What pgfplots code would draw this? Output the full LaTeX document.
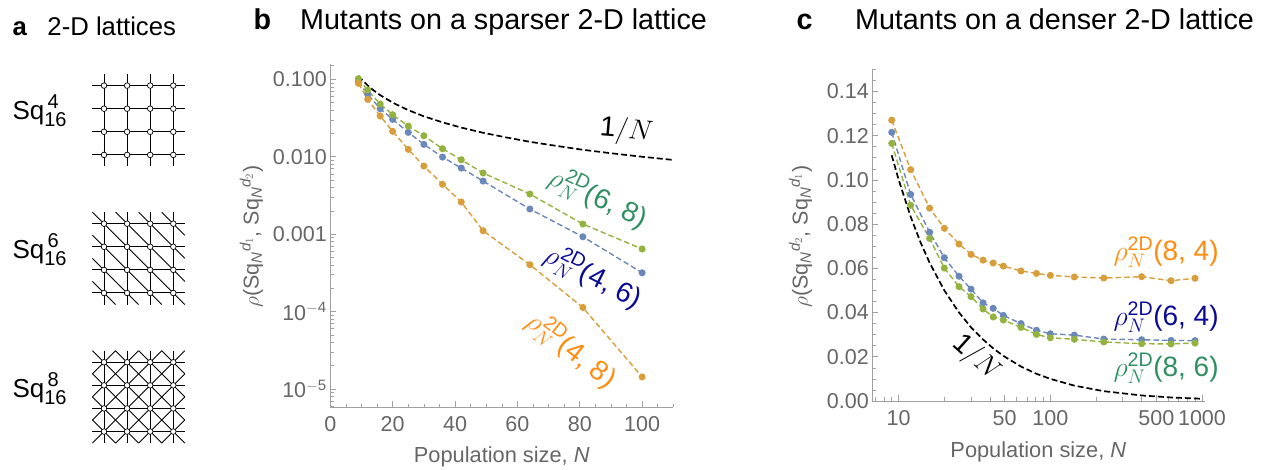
\RequirePackage{fix-cm}
\documentclass[border=0pt]{standalone}
\usepackage{fontspec}
\setmainfont{Liberation Sans}
\usepackage{pgfplots}
\pgfplotsset{compat=1.18}
\definecolor{cO}{HTML}{D99E3C}
\definecolor{cB}{HTML}{6A88BA}
\definecolor{cG}{HTML}{93B23F}
\definecolor{lO}{HTML}{FF8C10}
\definecolor{lB}{HTML}{0A0A96}
\definecolor{lG}{HTML}{2E8F60}
\definecolor{tk}{HTML}{666666}
\definecolor{ax}{HTML}{A0A0A0}
\newcommand{\fs}[1]{\fontsize{#1}{#1}\selectfont}
\newcommand{\rlab}[1]{$\rho_{N}^{\mathrm{2D}}$(#1)}
\newcommand{\sqlab}[1]{Sq\rlap{\raisebox{11pt}{\fs{20}\,#1}}\raisebox{-6.7pt}{\fs{20}16}}
\pgfplotsset{
  ser/.style={dashed pattern, mark=*, mark size=2.8pt, mark options={solid, draw=none, fill=#1}, color=#1, line width=1.4pt},
  dashed pattern/.style={dash pattern=on 5.5pt off 3pt},
  inv/.style={black, line width=1.7pt, dash pattern=on 6pt off 3pt, no marks},
  panel/.style={
    scale only axis, axis lines=left, axis line style={-, ax, line width=0.9pt},
    tick align=inside, major tick length=6pt, minor tick length=3.5pt,
    tick style={ax, line width=0.7pt}, minor tick style={ax, line width=0.6pt},
    tick label style={font=\fs{21.5}, text=tk},
    x tick label style={yshift=-6pt},
    label style={font=\fs{21.8}, text=tk},
    clip=false,
    title style={font=\fs{28.7}, text=black, anchor=base west},
  },
  lat/.style={
    scale only axis, width=92.4pt, height=92.4pt, hide axis,
    xmin=-.5, xmax=3.5, ymin=-.5, ymax=3.5, y dir=reverse, clip=false,
    unbounded coords=jump
  },
}
\newcommand{\latgrid}{%
  \addplot[black, line width=1pt] coordinates {(-.5,0)(3.5,0)(0,nan)(-.5,1)(3.5,1)(0,nan)(-.5,2)(3.5,2)(0,nan)(-.5,3)(3.5,3)(0,nan)(0,-.5)(0,3.5)(0,nan)(1,-.5)(1,3.5)(0,nan)(2,-.5)(2,3.5)(0,nan)(3,-.5)(3,3.5)};
}
\newcommand{\latnodes}{%
  \addplot[only marks, mark=*, mark size=2.8pt, mark options={fill=white, draw=black, line width=0.7pt}] coordinates {(0,0)(1,0)(2,0)(3,0)(0,1)(1,1)(2,1)(3,1)(0,2)(1,2)(2,2)(3,2)(0,3)(1,3)(2,3)(3,3)};
}
\newcommand{\latdown}{%
  \addplot[black, line width=0.9pt] coordinates {(-.5,-.5)(3.5,3.5)(0,nan)(-.5,.5)(2.5,3.5)(0,nan)(-.5,1.5)(1.5,3.5)(0,nan)(-.5,2.5)(.5,3.5)(0,nan)(.5,-.5)(3.5,2.5)(0,nan)(1.5,-.5)(3.5,1.5)(0,nan)(2.5,-.5)(3.5,.5)};
}
\newcommand{\latup}{%
  \addplot[black, line width=0.9pt] coordinates {(3.5,-.5)(-.5,3.5)(0,nan)(3.5,.5)(.5,3.5)(0,nan)(3.5,1.5)(1.5,3.5)(0,nan)(3.5,2.5)(2.5,3.5)(0,nan)(2.5,-.5)(-.5,2.5)(0,nan)(1.5,-.5)(-.5,1.5)(0,nan)(.5,-.5)(-.5,.5)};
}
\begin{document}
\begin{tikzpicture}[x=1pt,y=1pt]
\path[use as bounding box] (0,0) rectangle (1270,470);

% Panel a
\node[anchor=base west, font=\fs{25.7}] at (9,434) {\textbf{a}\hspace{20.5pt}2-D lattices};
\node[anchor=base west, font=\fs{26}] at (9,350) {\sqlab{4}};
\node[anchor=base west, font=\fs{26}] at (9,211) {\sqlab{6}};
\node[anchor=base west, font=\fs{26}] at (9,72.5) {\sqlab{8}};
\begin{axis}[lat, at={(92.45pt,303.55pt)}]
  \latgrid \latnodes
\end{axis}
\begin{axis}[lat, at={(92.45pt,165.45pt)}]
  \latdown \latgrid \latnodes
\end{axis}
\begin{axis}[lat, at={(92.45pt,26.9pt)}]
  \latdown \latup \latgrid \latnodes
\end{axis}

% Panel b
\begin{axis}[panel, at={(330.3pt,63pt)}, width=343pt, height=343pt,
  xmin=0, xmax=110, ymode=log, ymin=5.85e-6, ymax=0.1578,
  log basis y=10,
  xtick={0,20,40,60,80,100}, xticklabels={0,20,40,60,80,100},
  minor xtick={5,10,15,25,30,35,45,50,55,65,70,75,85,90,95,105,110},
  ytick={0.1,0.01,0.001,0.0001,0.00001},
  yticklabels={0.100,0.010,0.001,10$^{\mathrm{-4}}$,10$^{\mathrm{-5}}$},
  minor ytick={6e-6,7e-6,8e-6,9e-6,2e-5,3e-5,4e-5,5e-5,6e-5,7e-5,8e-5,9e-5,2e-4,3e-4,4e-4,5e-4,6e-4,7e-4,8e-4,9e-4,2e-3,3e-3,4e-3,5e-3,6e-3,7e-3,8e-3,9e-3,2e-2,3e-2,4e-2,5e-2,6e-2,7e-2,8e-2,9e-2,0.15},
  xlabel={Population size, \textit{N}},
  xlabel style={at={(axis description cs:0.5,-0.145)}, anchor=center},
  ylabel={$\rho$(Sq$_{\mathit{N}}{}^{\mathit{d}_{1}}$, Sq$_{\mathit{N}}{}^{\mathit{d}_{2}}$)},
  ylabel style={at={(axis description cs:-0.23,0.497)}, anchor=center, font=\fs{21.5}},
  title={\textbf{b}\hspace{29pt}Mutants on a sparser 2-D lattice},
  title style={at={(axis description cs:-0.234,1.0817)}},
]
\addplot[inv] coordinates {(9,0.1111)(10,0.1)(12,0.0833)(14,0.0714)(16,0.0625)(20,0.05)(25,0.04)(30,0.0333)(36,0.0278)(42,0.0238)(49,0.0204)(56,0.0179)(64,0.0156)(72,0.0139)(81,0.0123)(90,0.0111)(100,0.01)(110,0.00909)};
\addplot[ser=cB] coordinates {(9,0.0935)(12,0.064)(16,0.0417)(20,0.0304)(25,0.02065)(30,0.01445)(36,0.0099)(42,0.00714)(49,0.00485)(64,0.00211)(81,0.000925)(100,0.000317)};
\addplot[ser=cG] coordinates {(9,0.1018)(12,0.0728)(16,0.048)(20,0.0349)(25,0.0249)(30,0.01868)(36,0.01268)(42,0.00914)(49,0.00617)(64,0.0033)(81,0.00135)(100,0.000643)};
\addplot[ser=cO] coordinates {(9,0.0888)(12,0.0552)(16,0.0336)(20,0.0213)(25,0.01245)(30,0.00758)(36,0.0044)(42,0.0026)(49,0.001107)(64,0.000403)(81,0.000113)(100,0.0000143)};
\node[font=\fs{28}, rotate=-5] at (axis cs:95,0.0215) {1$/N$};
\node[font=\fs{28}, text=lG, rotate=-25] at (axis cs:85.9,0.00292) {\rlab{6, 8}};
\node[font=\fs{28}, text=lB, rotate=-27] at (axis cs:84.3,0.00028) {\rlab{4, 6}};
\node[font=\fs{28}, text=lO, rotate=-38] at (axis cs:77.3,3.18e-5) {\rlab{4, 8}};
\end{axis}

% Panel c
\begin{axis}[panel, at={(872.3pt,69pt)}, width=332.7pt, height=331.7pt,
  xmode=log, log basis x=10, xmin=6.7, xmax=1047, ymin=0, ymax=0.15,
  xtick={10,50,100,500,1000}, xticklabels={10,50,100,500,1000},
  minor xtick={7,8,9,20,30,40,60,70,80,90,200,300,400,600,700,800,900},
  ytick={0,0.02,0.04,0.06,0.08,0.10,0.12,0.14},
  yticklabels={0.00,0.02,0.04,0.06,0.08,0.10,0.12,0.14},
  minor ytick={0.005,0.01,0.015,0.025,0.03,0.035,0.045,0.05,0.055,0.065,0.07,0.075,0.085,0.09,0.095,0.105,0.11,0.115,0.125,0.13,0.135,0.145,0.15},
  xlabel={Population size, \textit{N}},
  xlabel style={at={(axis description cs:0.499,-0.152)}, anchor=center},
  ylabel={$\rho$(Sq$_{\mathit{N}}{}^{\mathit{d}_{2}}$, Sq$_{\mathit{N}}{}^{\mathit{d}_{1}}$)},
  ylabel style={at={(axis description cs:-0.216,0.496)}, anchor=center, font=\fs{21.5}},
  title={\textbf{c}\hspace{42.5pt}Mutants on a denser 2-D lattice},
  title style={at={(axis description cs:-0.238,1.1004)}},
]
\addplot[inv] coordinates {(9,0.1111)(10,0.1)(12,0.0833)(14,0.0714)(16,0.0625)(20,0.05)(25,0.04)(30,0.0333)(36,0.0278)(42,0.0238)(49,0.0204)(64,0.0156)(81,0.0123)(100,0.01)(144,0.00694)(225,0.00444)(400,0.0025)(625,0.0016)(1000,0.001)};
\addplot[ser=cO] coordinates {(9,0.127)(12,0.1046)(16,0.0872)(20,0.0781)(25,0.071)(30,0.0663)(36,0.0637)(42,0.0624)(49,0.061)(64,0.0588)(81,0.0577)(100,0.0568)(144,0.0561)(225,0.0556)(400,0.0562)(625,0.0544)(900,0.0555)};
\addplot[ser=cB] coordinates {(9,0.1215)(12,0.0934)(16,0.0763)(20,0.0648)(25,0.0564)(30,0.0506)(36,0.0444)(42,0.0419)(49,0.0387)(64,0.035)(81,0.032)(100,0.0304)(144,0.0298)(225,0.028)(400,0.0277)(625,0.0274)(900,0.0273)};
\addplot[ser=cG] coordinates {(9,0.1165)(12,0.0885)(16,0.0735)(20,0.0601)(25,0.0517)(30,0.0472)(36,0.0416)(42,0.038)(49,0.0366)(64,0.0333)(81,0.0301)(100,0.0286)(144,0.0279)(225,0.0267)(400,0.0259)(625,0.0258)(900,0.0262)};
\node[font=\fs{28}, rotate=-42] at (axis cs:32.3,0.0194) {1$/N$};
\node[font=\fs{28}, text=lO] at (axis cs:580,0.0674) {\rlab{8, 4}};
\node[font=\fs{28}, text=lB] at (axis cs:580,0.038) {\rlab{6, 4}};
\node[font=\fs{28}, text=lG] at (axis cs:580,0.0149) {\rlab{8, 6}};
\end{axis}
\end{tikzpicture}
\end{document}
